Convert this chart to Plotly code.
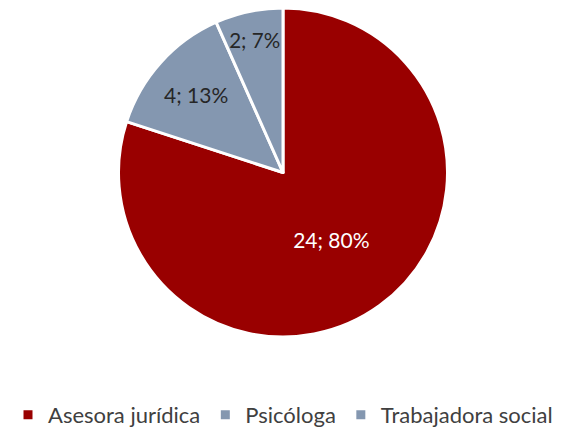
import plotly.graph_objects as go

categories = ["Asesora jurídica", "Psicóloga", "Trabajadora social"]
values = [24, 4, 2]
colors = ["#990000", "#8497B0", "#8497B0"]
text_colors = ["#FFFFFF", "#262626", "#262626"]

W, H = 566, 429
# the page body adds an 8px offset; compensate in the layout
OFF = 8

fig = go.Figure(go.Pie(
    labels=categories,
    values=values,
    sort=False,
    direction="clockwise",
    rotation=0,
    marker=dict(colors=colors, line=dict(color="white", width=3)),
    texttemplate="%{value}; %{percent:.0%}",
    textposition="inside",
    insidetextorientation="horizontal",
    insidetextfont=dict(color=text_colors, size=21, family="Lato, Open Sans, sans-serif"),
    hoverinfo="label+value+percent",
    domain=dict(x=[0, (W - 2 * OFF) / W], y=[(H - 329) / H, 1]),
))

fig.update_layout(
    width=W, height=H,
    margin=dict(l=0, r=0, t=0, b=0, autoexpand=False),
    paper_bgcolor="white",
    plot_bgcolor="white",
    font=dict(family="Lato, Open Sans, sans-serif", size=21, color="#404040"),
    showlegend=True,
    legend=dict(
        orientation="h",
        x=0, xanchor="left",
        y=22 / H, yanchor="middle",
        font=dict(size=22, color="#404040"),
        itemwidth=30,
        traceorder="normal",
    ),
)

fig.write_html("out.html")
